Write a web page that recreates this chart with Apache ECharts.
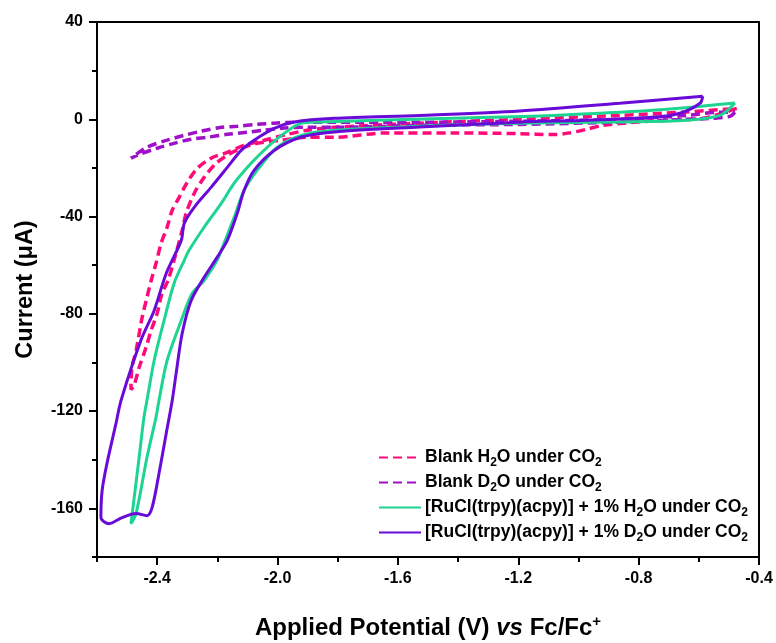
<!DOCTYPE html>
<html><head><meta charset="utf-8">
<script src="https://cdn.jsdelivr.net/npm/echarts@6/dist/echarts.min.js"></script>
<style>html,body{margin:0;padding:0;background:#fff}#c{width:776px;height:643px}</style>
</head><body><div id="c"></div>
<script>
// Tick values
const xTicks = [-2.4, -2.0, -1.6, -1.2, -0.8, -0.4];
const xMinorTicks = [-2.6, -2.2, -1.8, -1.4, -1.0, -0.6];
const yTicks = [-160, -120, -80, -40, 0, 40];
const yMinorTicks = [-180, -140, -100, -60, -20, 20];

// Series names
const seriesNames = [
  'Blank H2O under CO2',
  'Blank D2O under CO2',
  '[RuCl(trpy)(acpy)] + 1% H2O under CO2',
  '[RuCl(trpy)(acpy)] + 1% D2O under CO2'
];

// [potential V, current uA]
const blankH2O = [[-0.474,4.5],[-0.587,0.4],[-0.753,-0.7],[-0.919,-2.5],[-0.973,-4.1],[-1.029,-5.6],[-1.086,-6.3],[-1.196,-5.9],[-1.419,-5.6],[-1.638,-5.6],[-1.811,-7.4],[-1.901,-7.4],[-1.988,-8.6],[-2.068,-9.9],[-2.121,-11.9],[-2.167,-14.8],[-2.204,-18.1],[-2.244,-23.9],[-2.277,-30.5],[-2.304,-38.7],[-2.317,-45.7],[-2.344,-58.0],[-2.364,-66.3],[-2.384,-71.6],[-2.400,-79.8],[-2.420,-86.8],[-2.437,-93.8],[-2.460,-102.1],[-2.477,-109.5],[-2.487,-111.1],[-2.484,-102.1],[-2.470,-95.1],[-2.450,-81.5],[-2.434,-73.3],[-2.420,-66.3],[-2.404,-59.3],[-2.387,-51.0],[-2.367,-44.4],[-2.350,-37.4],[-2.327,-32.1],[-2.300,-25.9],[-2.267,-20.2],[-2.221,-16.0],[-2.167,-13.6],[-2.111,-10.7],[-2.044,-8.6],[-1.968,-6.2],[-1.901,-4.5],[-1.811,-3.3],[-1.528,-1.6],[-1.196,0],[-0.863,1.6],[-0.640,3.0],[-0.474,4.5]];

const blankD2O = [[-0.480,2.9],[-0.497,1.2],[-0.553,0.4],[-0.640,0],[-0.753,-0.6],[-0.863,-1.2],[-1.196,-2.1],[-1.528,-2.5],[-1.811,-3.3],[-1.901,-3.3],[-1.988,-3.7],[-2.044,-4.5],[-2.101,-5.3],[-2.167,-6.2],[-2.234,-7.4],[-2.287,-8.2],[-2.344,-9.9],[-2.400,-11.9],[-2.467,-14.8],[-2.487,-16.0],[-2.434,-11.5],[-2.367,-8.6],[-2.310,-6.6],[-2.254,-4.9],[-2.187,-3.3],[-2.134,-2.9],[-2.068,-2.1],[-2.011,-1.6],[-1.944,-1.2],[-1.811,-1.2],[-1.528,-1.2],[-1.196,-0.8],[-0.863,0],[-0.640,1.6],[-0.530,2.9],[-0.480,2.9]];

const ruH2O = [[-0.480,6.7],[-0.530,1.6],[-0.640,-0.4],[-0.863,-1.1],[-1.196,-1.6],[-1.528,-2.9],[-1.811,-4.5],[-1.921,-6.6],[-2.001,-11.5],[-2.068,-21.0],[-2.111,-29.2],[-2.144,-40.3],[-2.187,-53.9],[-2.201,-58.0],[-2.244,-66.3],[-2.284,-71.6],[-2.320,-82.7],[-2.367,-99.2],[-2.394,-115.6],[-2.404,-122.6],[-2.434,-139.1],[-2.470,-162.1],[-2.487,-166.3],[-2.460,-139.1],[-2.444,-122.6],[-2.434,-115.6],[-2.410,-99.2],[-2.377,-82.7],[-2.344,-67.5],[-2.310,-58.0],[-2.294,-53.9],[-2.244,-44.4],[-2.187,-34.6],[-2.144,-26.3],[-2.088,-18.1],[-2.034,-11.5],[-1.978,-5.8],[-1.921,-1.6],[-1.861,-1.1],[-1.419,0.4],[-1.086,1.6],[-0.753,3.7],[-0.480,6.7]];

const ruD2O = [[-0.587,9.5],[-0.596,6.6],[-0.663,2.5],[-0.753,0.8],[-0.973,-0.4],[-1.196,-1.2],[-1.528,-3.2],[-1.811,-5.2],[-1.921,-7.3],[-2.011,-12.8],[-2.078,-21.0],[-2.111,-29.2],[-2.134,-38.7],[-2.167,-49.8],[-2.201,-56.8],[-2.244,-65.0],[-2.287,-74.5],[-2.317,-88.1],[-2.337,-104.5],[-2.350,-115.6],[-2.370,-129.2],[-2.394,-145.7],[-2.417,-159.7],[-2.434,-163.0],[-2.470,-162.1],[-2.517,-163.8],[-2.560,-166.3],[-2.587,-163.8],[-2.583,-152.7],[-2.567,-141.6],[-2.537,-125.1],[-2.520,-115.6],[-2.454,-90.9],[-2.410,-78.6],[-2.370,-63.4],[-2.320,-49.8],[-2.310,-42.8],[-2.277,-36.2],[-2.221,-28.0],[-2.167,-19.8],[-2.121,-12.8],[-2.078,-8.6],[-2.011,-3.7],[-1.944,-1.1],[-1.811,0.4],[-1.528,1.6],[-1.196,3.4],[-0.863,6.6],[-0.587,9.5]];

const FONT = 'Arial, "Liberation Sans", sans-serif';
const chart = echarts.init(document.getElementById('c'), null, {renderer: 'canvas'});

const legendRich = {
  n: {fontSize: 17.5, fontWeight: 'bold', fontFamily: FONT, color: '#000', lineHeight: 21},
  s: {fontSize: 12, fontWeight: 'bold', fontFamily: FONT, color: '#000', lineHeight: 12, padding: [10, 0, 0, 0], verticalAlign: 'top'}
};
const legendText = {};
legendText[seriesNames[0]] = '{n|Blank H}{s|2}{n|O under CO}{s|2}';
legendText[seriesNames[1]] = '{n|Blank D}{s|2}{n|O under CO}{s|2}';
legendText[seriesNames[2]] = '{n|[RuCl(trpy)(acpy)] + 1% H}{s|2}{n|O under CO}{s|2}';
legendText[seriesNames[3]] = '{n|[RuCl(trpy)(acpy)] + 1% D}{s|2}{n|O under CO}{s|2}';

const colors = ['#FF0A78', '#A010C8', '#1DD590', '#6A0AD8'];
const datasets = [blankH2O, blankD2O, ruH2O, ruD2O];
const dashed = [true, true, false, false];

const axisLineStyle = {color: '#000', width: 2};
const tickLabel = {color: '#000', fontSize: 16, fontWeight: 'bold', fontFamily: FONT};

chart.setOption({
  animation: false,
  backgroundColor: '#fff',
  grid: {left: 97, right: 17, top: 22, bottom: 86, containLabel: false, outerBoundsMode: 'none'},
  legend: {
    orient: 'vertical', left: 378, top: 447, padding: 0,
    itemWidth: 42, itemHeight: 10, itemGap: 3,
    data: seriesNames,
    itemStyle: {opacity: 0},
    formatter: function (name) { return legendText[name]; },
    textStyle: {rich: legendRich, padding: [0, 0, 0, -1]},
    selectedMode: false
  },
  xAxis: [
    {type: 'value', position: 'bottom', min: -2.6, max: -0.4,
     axisLine: {show: true, onZero: false, lineStyle: axisLineStyle},
     axisTick: {show: true, customValues: xTicks, length: 8, inside: false, lineStyle: {color: '#000', width: 2}},
     axisLabel: {customValues: xTicks, margin: 14, formatter: v => v.toFixed(1), ...tickLabel},
     splitLine: {show: false},
     name: '{t|Applied Potential (V) }{i|vs}{t| Fc/Fc}{p|+}',
     nameLocation: 'middle', nameGap: 57,
     nameTextStyle: {rich: {
       t: {fontSize: 24, fontWeight: 'bold', fontFamily: FONT, color: '#000', lineHeight: 28},
       i: {fontSize: 24, fontWeight: 'bold', fontStyle: 'italic', fontFamily: FONT, color: '#000', lineHeight: 28},
       p: {fontSize: 15, fontWeight: 'bold', fontFamily: FONT, color: '#000', lineHeight: 15, padding: [0, 0, 13, 0], verticalAlign: 'bottom'}
     }}
    },
    {type: 'value', position: 'bottom', min: -2.6, max: -0.4,
     axisLine: {show: false, onZero: false},
     axisTick: {show: true, customValues: xMinorTicks, length: 5, lineStyle: {color: '#000', width: 2}},
     axisLabel: {show: false}, splitLine: {show: false}},
    {type: 'value', position: 'top', min: -2.6, max: -0.4,
     axisLine: {show: true, onZero: false, lineStyle: axisLineStyle},
     axisTick: {show: false}, axisLabel: {show: false}, splitLine: {show: false}}
  ],
  yAxis: [
    {type: 'value', position: 'left', min: -180, max: 40,
     axisLine: {show: true, onZero: false, lineStyle: axisLineStyle},
     axisTick: {show: true, customValues: yTicks, length: 8, lineStyle: {color: '#000', width: 2}},
     axisLabel: {customValues: yTicks, margin: 14, ...tickLabel},
     splitLine: {show: false},
     name: 'Current (μA)', nameLocation: 'middle', nameGap: 59,
     nameTextStyle: {fontSize: 23.5, fontWeight: 'bold', fontFamily: FONT, color: '#000'}
    },
    {type: 'value', position: 'left', min: -180, max: 40,
     axisLine: {show: false, onZero: false},
     axisTick: {show: true, customValues: yMinorTicks, length: 5, lineStyle: {color: '#000', width: 2}},
     axisLabel: {show: false}, splitLine: {show: false}},
    {type: 'value', position: 'right', min: -180, max: 40,
     axisLine: {show: true, onZero: false, lineStyle: axisLineStyle},
     axisTick: {show: false}, axisLabel: {show: false}, splitLine: {show: false}}
  ],
  series: seriesNames.map((name, i) => ({
    name: name, type: 'line', xAxisIndex: 0, yAxisIndex: 0,
    data: datasets[i], symbol: 'none', smooth: 0.3, clip: true,
    color: colors[i],
    lineStyle: {color: colors[i], width: dashed[i] ? 3.5 : 3, type: dashed[i] ? [9, 5] : 'solid'}
  }))
});
</script></body></html>
